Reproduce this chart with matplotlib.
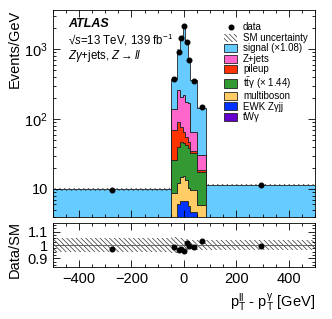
import numpy as np
import matplotlib
matplotlib.use("Agg")
import matplotlib.pyplot as plt
from matplotlib.patches import Patch
from matplotlib.lines import Line2D
from matplotlib.ticker import MultipleLocator, FixedLocator, NullFormatter

plt.rcParams["font.family"] = ["Liberation Sans", "DejaVu Sans"]
plt.rcParams["mathtext.fontset"] = "custom"
plt.rcParams["mathtext.rm"] = "Liberation Sans"
plt.rcParams["mathtext.it"] = "Liberation Sans:italic"
plt.rcParams["mathtext.bf"] = "Liberation Sans:bold"
plt.rcParams["hatch.linewidth"] = 0.5

# --------------------------
# data
# --------------------------
edges = [-500, -50, -25, -15, -5, 5, 15, 25, 50, 85, 500]
data = [9.6, 376, 906, 1466, 2158, 1285, 703, 355, 147, 11.3]

# stacked components, bottom -> top, Events/GeV
twg = [0.1, 0.5, 0.8, 1.0, 1.0, 1.0, 0.8, 0.6, 0.4, 0.1]
ewk = [0.2, 2.0, 5.2, 5.8, 5.8, 5.8, 4.8, 4.1, 2.1, 0.2]
multiboson = [0.7, 6.2, 6.0, 8.2, 8.7, 6.6, 4.6, 4.9, 3.4, 0.7]
ttg = [0.5, 17.3, 28.0, 32.0, 29.5, 28.6, 28.3, 23.4, 11.8, 0.5]
pileup = [0.3, 43.8, 51.0, 31.0, 21.0, 14.0, 8.5, 2.0, 0.8, 0.3]
zjets = [0.7, 69.3, 170, 130, 156, 122, 123, 30, 12, 0.7]
signal = [7.4, 242, 681, 1303, 2038, 1086, 537, 295, 112, 8.9]

# relative SM uncertainty
sm_unc = [0.055, 0.06, 0.055, 0.05, 0.05, 0.045, 0.04, 0.04, 0.035, 0.04]

components = [
    ("tWγ", twg, "#6600cc"),
    ("EWK Zγjj", ewk, "#0033ff"),
    ("multiboson", multiboson, "#ffcc66"),
    (r"t$\mathregular{\bar{t}}$γ (× 1.44)", ttg, "#339933"),
    ("pileup", pileup, "#ff3300"),
    ("Z+jets", zjets, "#ff66cc"),
    ("signal (×1.08)", signal, "#66ccff"),
]

edges = np.array(edges, dtype=float)
centers = 0.5 * (edges[:-1] + edges[1:])
data = np.array(data)

# --------------------------
# figure
# --------------------------
fig = plt.figure(figsize=(3.32, 3.19), dpi=100)
ax = fig.add_axes([0.1589, 0.3197, 0.7899, 0.6489])
rax = fig.add_axes([0.1589, 0.163, 0.7899, 0.1379])

base = np.full(len(centers), 1e-3)
for name, vals, col in components:
    top = base + np.array(vals)
    ax.stairs(top, edges, baseline=base, fill=True, facecolor=col,
              edgecolor="#222222", linewidth=0.6)
    base = top
total = base

ax.stairs(total * (1 + np.array(sm_unc)), edges,
          baseline=total * (1 - np.array(sm_unc)), fill=True,
          facecolor="none", edgecolor="#333333", linewidth=0,
          hatch="\\\\\\\\\\\\\\")

ax.plot(centers, data, "o", color="black", markersize=3.3, zorder=5)

ax.set_yscale("log")
ax.set_xlim(-500, 500)
ax.set_ylim(3.95, 3650)
ax.yaxis.set_major_locator(FixedLocator([10, 100, 1000]))
ax.set_yticklabels(["10", "$10^2$", "$10^3$"])
ax.xaxis.set_major_locator(MultipleLocator(200))
ax.xaxis.set_minor_locator(MultipleLocator(50))
ax.xaxis.set_major_formatter(NullFormatter())
ax.set_ylabel("Events/GeV", fontsize=10.5, loc="top")
ax.yaxis.set_label_coords(-0.118, 1.0)

# ATLAS label
ax.text(0.058, 0.918, "ATLAS", transform=ax.transAxes, fontsize=9,
        fontweight="bold", fontstyle="italic", va="baseline")
ax.text(0.058, 0.897,
        "√$s$=13 TeV, 139 fb$^{-1}$\n$Z\\gamma$+jets, $Z\\rightarrow ll$",
        transform=ax.transAxes, fontsize=8.3, va="top", linespacing=1.05)

# legend
handles = [Line2D([], [], marker="o", color="black", linestyle="none",
                  markersize=3.3),
           Patch(facecolor="none", edgecolor="#333333", linewidth=0,
                 hatch="\\\\\\\\\\\\\\")]
labels = ["data", "SM uncertainty"]
for name, vals, col in reversed(components):
    handles.append(Patch(facecolor=col, edgecolor="#222222", linewidth=0.6))
    labels.append(name)
ax.legend(handles, labels, loc="upper left", bbox_to_anchor=(0.653, 0.94),
          frameon=False, fontsize=7, handlelength=1.35, handleheight=0.9,
          handletextpad=0.6, labelspacing=0.05, borderpad=0,
          borderaxespad=0)

# --------------------------
# ratio panel
# --------------------------
ratio = data / total
unc = np.array(sm_unc)
rax.stairs(1 + unc, edges, baseline=1 - unc, fill=True, facecolor="none",
           edgecolor="#333333", linewidth=0, hatch="\\\\\\\\\\\\\\")
rax.axhline(1.0, color="#555555", linewidth=0.6)
rax.plot(centers, ratio, "o", color="black", markersize=3.3, zorder=5)
rax.set_xlim(-500, 500)
rax.set_ylim(0.835, 1.165)
rax.yaxis.set_major_locator(FixedLocator([0.9, 1.0, 1.1]))
rax.set_yticklabels(["0.9", "1", "1.1"])
rax.yaxis.set_minor_locator(MultipleLocator(0.025))
rax.xaxis.set_major_locator(MultipleLocator(200))
rax.xaxis.set_minor_locator(MultipleLocator(50))
rax.set_ylabel("Data/SM", fontsize=10.5, loc="top")
rax.yaxis.set_label_coords(-0.118, 1.05)
rax.set_xlabel(r"$\mathregular{p_{T}^{ll}}$ - $\mathregular{p_{T}^{\gamma}}$ [GeV]",
               fontsize=10.5, loc="right")
rax.xaxis.set_label_coords(1.0, -0.55)

for a in (ax, rax):
    a.tick_params(which="both", direction="in", top=True, right=True,
                  labelsize=10.5)
    a.tick_params(which="major", length=5, width=0.6)
    a.tick_params(which="minor", length=2.5, width=0.6)
    for sp in a.spines.values():
        sp.set_linewidth(0.6)

fig.savefig("out.png", dpi=100)
